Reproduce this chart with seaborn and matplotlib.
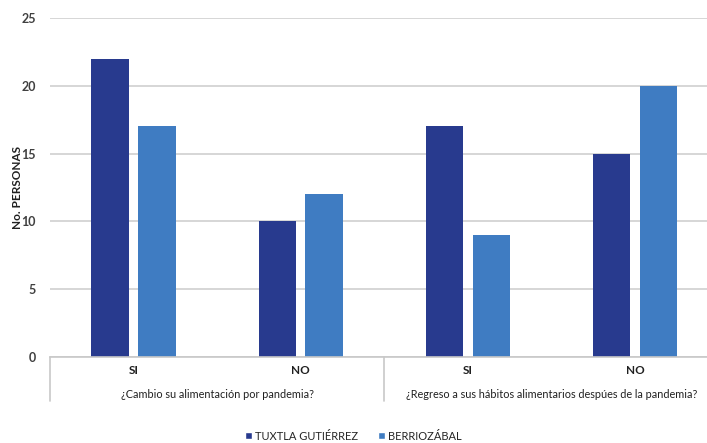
import matplotlib
matplotlib.use("Agg")
import matplotlib.pyplot as plt
import seaborn as sns
import pandas as pd
from matplotlib.patches import Patch
from matplotlib.lines import Line2D

# Survey answers per municipality
questions = ["¿Cambio su alimentación por pandemia?",
             "¿Regreso a sus hábitos alimentarios despúes de la pandemia?"]
answers = ["SI", "NO", "SI", "NO"]
tuxtla = [22, 10, 17, 15]
berriozabal = [17, 12, 9, 20]
series_names = ["TUXTLA GUTIÉRREZ", "BERRIOZÁBAL"]
colors = ["#283a8e", "#3f7cc2"]

categories = [f"{q}|{a}" for q in questions for a in ["SI", "NO"]]
df = pd.DataFrame({
    "cat": categories * 2,
    "serie": [series_names[0]] * 4 + [series_names[1]] * 4,
    "valor": tuxtla + berriozabal,
})

sns.set_theme(style="white")
plt.rcParams["font.family"] = ["Lato", "DejaVu Sans"]

fig = plt.figure(figsize=(7.07, 4.43), dpi=100)
ax = fig.add_axes([50 / 707, 86 / 443, 657 / 707, 339 / 443])

sns.barplot(data=df, x="cat", y="valor", hue="serie", order=categories,
            hue_order=series_names, palette=colors, width=0.56, gap=0.2,
            saturation=1, legend=False, ax=ax, edgecolor="none")

ax.set_ylim(0, 25)
ax.set_xlim(-0.5, 3.43)
ax.set_yticks(range(0, 26, 5))
ax.yaxis.grid(True, color="#d6d6d6", linewidth=1.4)
ax.set_axisbelow(True)
for s in ["top", "right", "left"]:
    ax.spines[s].set_visible(False)
ax.spines["bottom"].set_color("#c8c8c8")
ax.spines["bottom"].set_linewidth(1.2)
ax.tick_params(axis="y", length=0, pad=10, labelsize=9, labelcolor="#404040")
for lbl in ax.get_yticklabels():
    lbl.set_fontweight("bold")
ax.set_xticks([])
ax.set_xlabel("")
ax.set_ylabel("No. PERSONAS", fontsize=8.5, fontweight="bold", color="#202020")
ax.yaxis.set_label_coords(-27 / 657, 0.5)

# two-level category axis
trans = ax.get_xaxis_transform()
for i, a in enumerate(answers):
    ax.text(i, -0.04, a, transform=trans, ha="center", va="center",
            fontsize=8.5, fontweight="bold", color="#202020")
for j, q in enumerate(questions):
    ax.text(2 * j + 0.5, -0.11, q, transform=trans, ha="center", va="center",
            fontsize=7.8, color="#202020")
for xsep in [-0.5, 1.5, 3.5]:
    ax.add_line(Line2D([xsep, xsep], [0, -0.13], transform=trans,
                       color="#c8c8c8", linewidth=1.2, clip_on=False))

handles = [Patch(facecolor=c, label=n) for c, n in zip(colors, series_names)]
fig.legend(handles=handles, loc="center", bbox_to_anchor=(0.5, 1 - 436 / 443),
           ncol=2, frameon=False, fontsize=8, handlelength=0.6,
           handleheight=0.6, handletextpad=0.3, columnspacing=1.8)

fig.savefig("out.png", dpi=100, facecolor="white")
